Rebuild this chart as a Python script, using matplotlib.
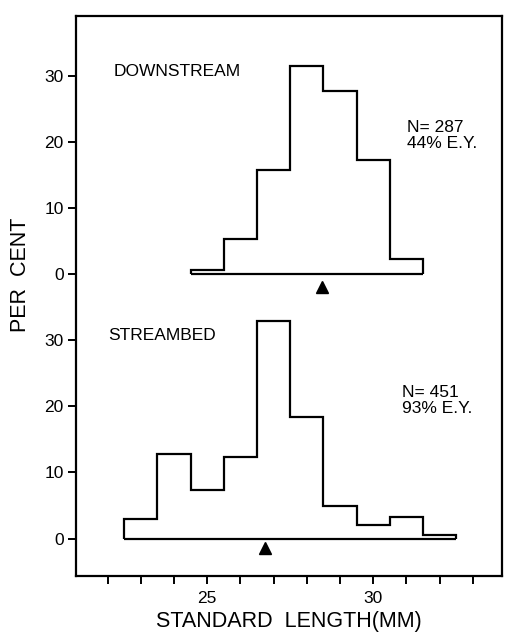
import matplotlib
matplotlib.use("Agg")
import matplotlib.pyplot as plt
import numpy as np

# ---- data ----
downstream_edges = [24.5, 25.5, 26.5, 27.5, 28.5, 29.5, 30.5, 31.5]
downstream_pct = [0.7, 5.4, 15.8, 31.5, 27.7, 17.3, 2.3]
downstream_mean = 28.45

streambed_edges = [22.5, 23.5, 24.5, 25.5, 26.5, 27.5, 28.5, 29.5, 30.5, 31.5, 32.5]
streambed_pct = [3.0, 12.8, 7.4, 12.4, 32.9, 18.4, 4.9, 2.1, 3.3, 0.6]
streambed_mean = 26.75

offset_top = 40  # vertical offset of the upper histogram
y_tick_values = [0, 10, 20, 30]
x_tick_labels = {25: "25", 30: "30"}
x_ticks = list(range(22, 34))

FONT = "Liberation Sans"

fig = plt.figure(figsize=(5.07, 6.36), dpi=100)
ax = fig.add_axes([0.150, 0.094, 0.840, 0.881])

lw = 1.6
# streambed (bottom)
ax.stairs(streambed_pct, streambed_edges, baseline=0, fill=False, color="black", lw=lw)
ax.hlines(0, streambed_edges[0], streambed_edges[-1], color="black", lw=lw)
# downstream (top)
ax.stairs(np.array(downstream_pct) + offset_top, downstream_edges, baseline=offset_top,
          fill=False, color="black", lw=lw)
ax.hlines(offset_top, downstream_edges[0], downstream_edges[-1], color="black", lw=lw)

# mean markers
ax.plot([streambed_mean], [-1.4], marker="^", color="black", markersize=8, linestyle="none")
ax.plot([downstream_mean], [offset_top - 1.9], marker="^", color="black", markersize=8, linestyle="none")

ax.set_xlim(21.05, 33.88)
ax.set_ylim(-5.7, 79.1)

ax.set_xticks(x_ticks)
ax.set_xticklabels([x_tick_labels.get(t, "") for t in x_ticks], fontsize=12.5, family=FONT)
yt = y_tick_values + [v + offset_top for v in y_tick_values]
ax.set_yticks(yt)
ax.set_yticklabels([str(v) for v in y_tick_values] * 2, fontsize=12.5, family=FONT)
ax.tick_params(axis="both", direction="out", length=6, width=1.4, pad=3)
ax.tick_params(axis="x", pad=5)
for s in ax.spines.values():
    s.set_linewidth(1.6)

ax.set_xlabel("STANDARD  LENGTH(MM)", fontsize=15.5, family=FONT, labelpad=3)
fig.text(0.040, 1 - 275 / 636, "PER  CENT", rotation=90, fontsize=15.5, family=FONT,
         ha="center", va="center")

ax.text(0.088, 0.900, "DOWNSTREAM", transform=ax.transAxes, fontsize=12.5, family=FONT,
        ha="left", va="center")
ax.text(0.075, 0.430, "STREAMBED", transform=ax.transAxes, fontsize=12.5, family=FONT,
        ha="left", va="center")
ax.text(0.777, 0.787, "N= 287\n44% E.Y.", transform=ax.transAxes, fontsize=12.5, family=FONT,
        ha="left", va="center", linespacing=1.1)
ax.text(0.765, 0.314, "N= 451\n93% E.Y.", transform=ax.transAxes, fontsize=12.5, family=FONT,
        ha="left", va="center", linespacing=1.1)

fig.savefig("out.png", dpi=100)
